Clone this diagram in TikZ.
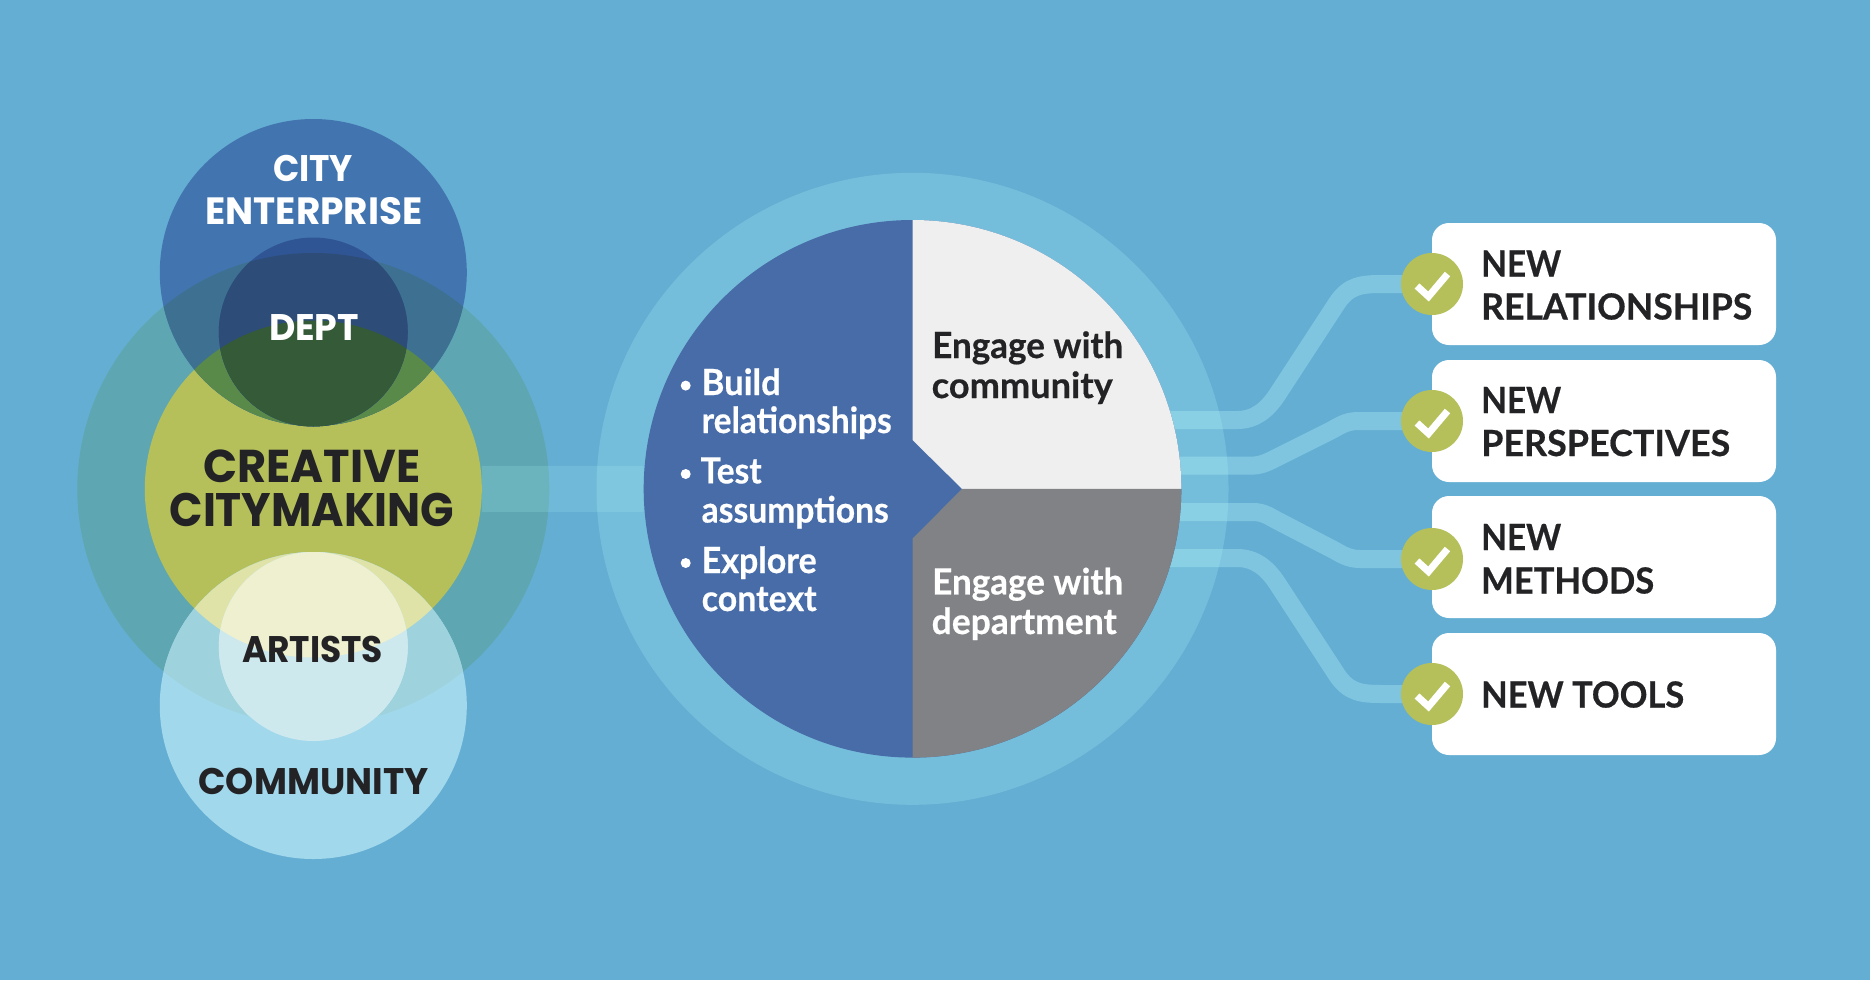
\documentclass[tikz,border=0pt]{standalone}
\usepackage{fontspec}
\usepackage{graphicx}
\setmainfont{Lato}[BoldFeatures={FakeBold=0.5}]
\newfontfamily\vennfamily{Poppins}
\newsavebox\wbox
\newcommand\wfit[3]{\sbox\wbox{\fontsize{#2}{#2}\selectfont #3}\pgfmathsetmacro\xsc{#1/\the\wd\wbox}\scalebox{\xsc}[1]{\usebox\wbox}}
\definecolor{bgc}{RGB}{101,174,211}
\definecolor{outerc}{RGB}{94,167,178}
\definecolor{greenc}{RGB}{181,192,90}
\definecolor{cityc}{RGB}{66,117,175}
\definecolor{cityouter}{RGB}{62,113,145}
\definecolor{citygreen}{RGB}{90,138,74}
\definecolor{deptc}{RGB}{47,85,148}
\definecolor{deptouter}{RGB}{45,77,120}
\definecolor{deptgreen}{RGB}{53,90,56}
\definecolor{commc}{RGB}{161,216,236}
\definecolor{commouter}{RGB}{158,210,220}
\definecolor{commgreen}{RGB}{223,227,168}
\definecolor{artc}{RGB}{205,233,238}
\definecolor{artouter}{RGB}{205,233,238}
\definecolor{artgreen}{RGB}{238,240,207}
\definecolor{ringc}{RGB}{117,190,219}
\definecolor{pieblue}{RGB}{71,108,168}
\definecolor{piewhite}{RGB}{239,239,239}
\definecolor{piegrey}{RGB}{128,130,133}
\definecolor{inkc}{RGB}{35,35,38}
\definecolor{glowc}{RGB}{180,245,250}
\pgfdeclarelayer{back}
\pgfsetlayers{back,main}
\tikzset{
  disc/.style={circle,inner sep=0pt,outer sep=0pt,draw=none},
  stream/.style={draw=glowc,draw opacity=.33,line width=18pt,line cap=butt},
  bandline/.style={draw=glowc,draw opacity=.16,line width=46pt},
  resultbox/.style={rectangle,rounded corners=17pt,fill=white,minimum width=344pt,minimum height=122pt,inner sep=0pt},
  checkdot/.style={circle,fill=greenc,minimum size=62pt,inner sep=0pt},
  checkstroke/.style={draw=white,line width=7pt,line join=miter},
  venntxt/.style={inner sep=0pt,anchor=base,font=\vennfamily\bfseries},
  boxtxt/.style={inner sep=0pt,anchor=base west,text=inkc,font=\bfseries},
  pietxt/.style={inner sep=0pt,anchor=base west,font=\bfseries},
  bulletdot/.style={circle,fill=white,minimum size=10pt,inner sep=0pt}
}
\begin{document}
\begin{tikzpicture}[x=1pt,y=-1pt]
\useasboundingbox (0,0) rectangle (1870,980);
% --- main layer: pie, boxes, checks, text
\node[disc,fill=pieblue,minimum size=537.6pt] (pie) at (912.5,488.8) {};
\fill[piewhite] (912.5,220) arc[start angle=90,end angle=0,radius=268.8pt] -- (962,488.8) -- (912.5,440) -- cycle;
\fill[piegrey] (1181.3,488.8) arc[start angle=0,end angle=-90,radius=268.8pt] -- (912.5,538.7) -- (962,488.8) -- cycle;
\node[resultbox] (box1) at (1604,284) {};
\node[resultbox] (box2) at (1604,421) {};
\node[resultbox] (box3) at (1604,557) {};
\node[resultbox] (box4) at (1604,694) {};
\node[checkdot] (check1) at (1432,284) {};
\node[checkdot] (check2) at (1432,421) {};
\node[checkdot] (check3) at (1432,559) {};
\node[checkdot] (check4) at (1432,694) {};
\foreach \c in {check1,check2,check3,check4}{
  \draw[checkstroke] ([shift={(-15,2)}]\c.center) -- ([shift={(-3.5,12.5)}]\c.center) -- ([shift={(15.5,-10)}]\c.center);
}
% --- back layer
\begin{pgfonlayer}{back}
\fill[bgc] (0,0) rectangle (1870,980);
\node[disc,fill=ringc,minimum size=632pt] (ring) at (912.5,488.8) {};
% venn
\node[disc,fill=outerc,minimum size=472pt] (outer) at (313.3,489) {};
\node[disc,fill=greenc,minimum size=337pt] (maincirc) at (313.3,489) {};
\node[disc,fill=cityc,minimum size=307pt] (city) at (313.3,272.5) {};
\begin{scope}
  \clip (313.3,272.5) circle[radius=153.5pt];
  \fill[cityouter] (313.3,489) circle[radius=236pt];
  \fill[citygreen] (313.3,489) circle[radius=168.5pt];
\end{scope}
\node[disc,fill=deptc,minimum size=189pt] (dept) at (313.3,332) {};
\begin{scope}
  \clip (313.3,332) circle[radius=94.5pt];
  \fill[deptouter] (313.3,489) circle[radius=236pt];
  \fill[deptgreen] (313.3,489) circle[radius=168.5pt];
\end{scope}
\node[disc,fill=commc,minimum size=307pt] (comm) at (313.3,705.5) {};
\begin{scope}
  \clip (313.3,705.5) circle[radius=153.5pt];
  \fill[commouter] (313.3,489) circle[radius=236pt];
  \fill[commgreen] (313.3,489) circle[radius=168.5pt];
\end{scope}
\node[disc,fill=artc,minimum size=189pt] (art) at (313.3,646.5) {};
\begin{scope}
  \clip (313.3,646.5) circle[radius=94.5pt];
  \fill[artouter] (313.3,489) circle[radius=236pt];
  \fill[artgreen] (313.3,489) circle[radius=168.5pt];
\end{scope}
% band from the venn to the pie
\draw[bandline] (maincirc.east) -- (pie.west);
% streams
\coordinate (s1) at (1100,420);
\coordinate (s2) at (1100,465.7);
\coordinate (s3) at (1100,512);
\coordinate (s4) at (1100,558);
\draw[stream] (s1) -- (1237,420) .. controls (1255,420) and (1267,410) .. (1277,395) -- (1337,303) .. controls (1349,285) and (1362,284) .. (1383,284) -- (check1.center);
\draw[stream] (s2) -- (1250,465.7) .. controls (1260,465.7) and (1266,463) .. (1274,459) -- (1330,431) .. controls (1338,427) and (1345,421) .. (1358,421) -- (check2.center);
\draw[stream] (s3) -- (1253,512) .. controls (1264,512) and (1270,517) .. (1278,521) -- (1330,548) .. controls (1340,553) and (1347,559) .. (1360,559) -- (check3.center);
\draw[stream] (s4) -- (1237,558) .. controls (1255,558) and (1267,568) .. (1277,583) -- (1337,675) .. controls (1349,693) and (1362,694) .. (1383,694) -- (check4.center);
\end{pgfonlayer}
% --- venn labels
\node[venntxt,text=white] (t1) at (313,181) {\wfit{80}{37}{CITY}};
\node[venntxt,text=white] (t2) at (314,224.8) {\wfit{217}{38}{ENTERPRISE}};
\node[venntxt,text=white] (t3) at (314,340) {\wfit{90}{37}{DEPT}};
\node[venntxt,text=inkc] (t4) at (312,482) {\wfit{217}{46}{CREATIVE}};
\node[venntxt,text=inkc] (t5) at (312,526.5) {\wfit{285}{47}{CITYMAKING}};
\node[venntxt,text=inkc] (t6) at (312.5,662) {\wfit{141}{37}{ARTISTS}};
\node[venntxt,text=inkc] (t7) at (313.5,794) {\wfit{230}{37}{COMMUNITY}};
% --- pie labels
\node[pietxt,text=inkc] (e1) at (932,358) {\wfit{191}{36}{Engage with}};
\node[pietxt,text=inkc] (e2) at (931.5,398) {\wfit{181}{36}{community}};
\node[pietxt,text=white] (e3) at (932,594.4) {\wfit{191}{36}{Engage with}};
\node[pietxt,text=white] (e4) at (931.5,634) {\wfit{185}{36}{department}};
\node[pietxt,text=white] (b1) at (701.5,395) {\wfit{79}{36}{Build}};
\node[pietxt,text=white] (b2) at (701.5,433) {\wfit{190}{36}{relationships}};
\node[pietxt,text=white] (b3) at (700.5,483.4) {\wfit{61}{36}{Test}};
\node[pietxt,text=white] (b4) at (701.5,522.5) {\wfit{187}{36}{assumptions}};
\node[pietxt,text=white] (b5) at (701.5,573) {\wfit{115}{36}{Explore}};
\node[pietxt,text=white] (b6) at (701.5,611) {\wfit{115}{36}{context}};
\node[bulletdot] (d1) at (685.7,385.6) {};
\node[bulletdot] (d2) at (685.7,474) {};
\node[bulletdot] (d3) at (685.7,563) {};
% --- box labels
\node[boxtxt] (n1) at (1481,276.5) {\wfit{80}{36}{NEW}};
\node[boxtxt] (r1) at (1481,319.5) {\wfit{271}{36}{RELATIONSHIPS}};
\node[boxtxt] (n2) at (1481,413) {\wfit{80}{36}{NEW}};
\node[boxtxt] (r2) at (1481,456) {\wfit{249}{36}{PERSPECTIVES}};
\node[boxtxt] (n3) at (1481,550) {\wfit{80}{36}{NEW}};
\node[boxtxt] (r3) at (1481,593.5) {\wfit{173}{36}{METHODS}};
\node[boxtxt] (r4) at (1481,707.5) {\wfit{203}{36}{NEW TOOLS}};
\end{tikzpicture}
\end{document}
